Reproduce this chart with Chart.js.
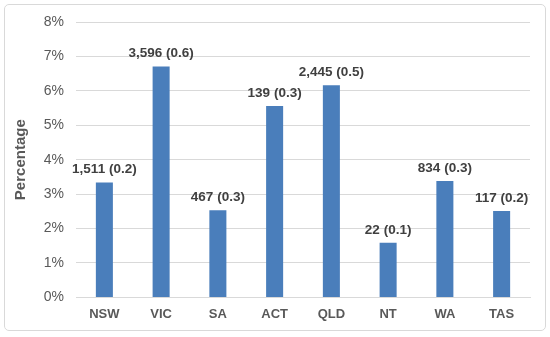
<!DOCTYPE html>
<html>
<head>
<meta charset="utf-8">
<script src="https://cdn.jsdelivr.net/npm/chart.js@4/dist/chart.umd.min.js"></script>
<style>
  html, body { margin: 0; padding: 0; background: #fff; }
  #wrap { position: relative; width: 550px; height: 337px; }
  #frame {
    position: absolute; left: 4px; top: 4px; width: 540px; height: 325px;
    border: 1px solid #d9d9d9; border-radius: 5px; pointer-events: none;
  }
</style>
</head>
<body>
<div id="wrap">
  <canvas id="myChart" width="550" height="337"></canvas>
  <div id="frame"></div>
</div>
<script>
// states and the share (%) plotted as bar height
var states = ['NSW', 'VIC', 'SA', 'ACT', 'QLD', 'NT', 'WA', 'TAS'];
var percents = [3.34, 6.71, 2.53, 5.56, 6.16, 1.59, 3.38, 2.51];
// numbers shown above each bar
var counts = ['1,511', '3,596', '467', '139', '2,445', '22', '834', '117'];
var rates = ['0.2', '0.6', '0.3', '0.3', '0.5', '0.1', '0.3', '0.2'];

var fontFamily = '"Liberation Sans", Arial, sans-serif';

// draws "count (rate)" above every bar
var barLabels = {
    id: 'barLabels',
    afterDatasetsDraw: function (chart) {
        var ctx = chart.ctx;
        var meta = chart.getDatasetMeta(0);
        ctx.save();
        ctx.font = 'bold 13.5px ' + fontFamily;
        ctx.fillStyle = '#404040';
        ctx.textAlign = 'center';
        ctx.textBaseline = 'bottom';
        meta.data.forEach(function (bar, i) {
            ctx.fillText(counts[i] + ' (' + rates[i] + ')', bar.x, bar.y - 6);
        });
        ctx.restore();
    }
};

var ctx_live = document.getElementById('myChart');
var myChart = new Chart(ctx_live, {
    type: 'bar',
    data: {
        labels: states,
        datasets: [{
            data: percents,
            backgroundColor: '#4a7ebb',
            borderWidth: 0,
            categoryPercentage: 1.0,
            barPercentage: 0.3
        }]
    },
    options: {
        responsive: false,
        animation: false,
        events: [],
        layout: { padding: { left: 12, right: 20, top: 22, bottom: 6 } },
        plugins: {
            legend: { display: false },
            tooltip: { enabled: false }
        },
        scales: {
            x: {
                grid: { display: false, drawTicks: false },
                border: { color: '#d9d9d9' },
                ticks: {
                    color: '#595959',
                    padding: 9,
                    font: { family: fontFamily, size: 13, weight: 'bold' }
                }
            },
            y: {
                min: 0,
                max: 8,
                afterFit: function (scale) { scale.width = 64; },
                grid: { color: '#d9d9d9', drawTicks: false },
                border: { display: false },
                ticks: {
                    stepSize: 1,
                    padding: 12,
                    color: '#595959',
                    font: { family: fontFamily, size: 14 },
                    callback: function (v) { return v + '%'; }
                },
                title: {
                    display: true,
                    text: 'Percentage',
                    color: '#595959',
                    padding: 0,
                    font: { family: fontFamily, size: 15, weight: 'bold' }
                }
            }
        }
    },
    plugins: [barLabels]
});
</script>
</body>
</html>
